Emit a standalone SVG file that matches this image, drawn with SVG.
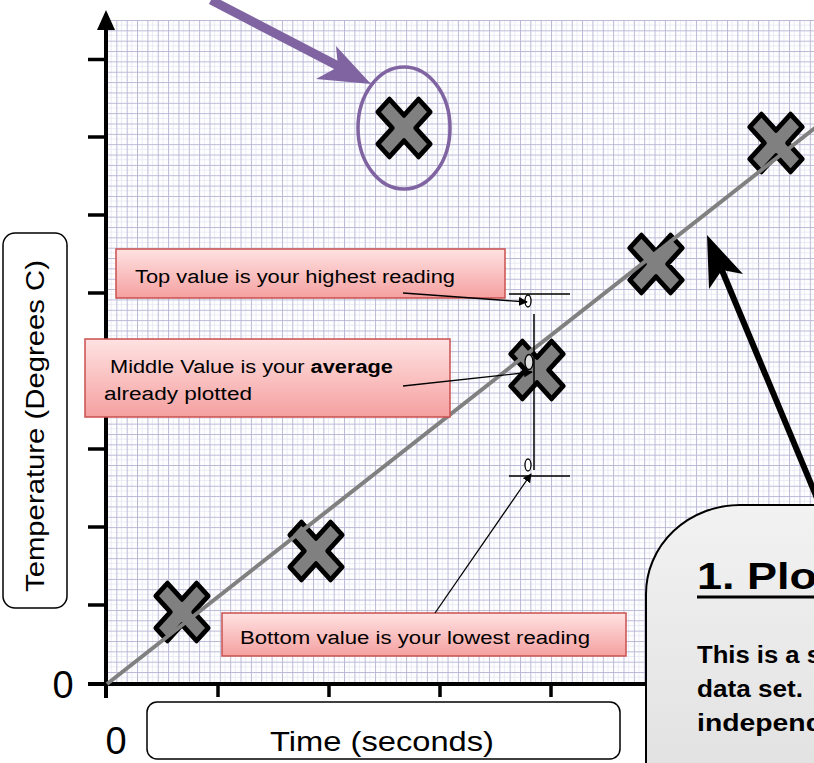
<svg xmlns="http://www.w3.org/2000/svg" xmlns:xlink="http://www.w3.org/1999/xlink" width="814" height="763" viewBox="0 0 814 763">
<style>
.txt{font-family:"Liberation Sans",Arial,sans-serif;fill:#000}
.redbox{fill:url(#redgrad);stroke:#c9504f;stroke-width:1.5}
.cross{fill:#808080;stroke:#000;stroke-width:4.5;stroke-linejoin:round}
.axis{stroke:#000;stroke-width:4;fill:none}
.tick{stroke:#000;stroke-width:3.5}
.ptr{stroke:#000;stroke-width:1.3;fill:none;marker-end:url(#sm)}
.oval{fill:#fff;stroke:#000;stroke-width:1.3}
</style>
<defs>
<pattern id="grid" patternUnits="userSpaceOnUse" x="106" y="20" width="10.35" height="10.35">
<rect width="10.35" height="10.35" fill="#fefeff"/>
<path d="M5.17 0V10.35M0 5.17H10.35" stroke="#e6e6f2" stroke-width="0.7"/>
<path d="M0.5 0V10.35M0 0.5H10.35" stroke="#b4b2d4" stroke-width="0.9"/>
</pattern>
<linearGradient id="redgrad" x1="0" y1="0" x2="0" y2="1">
<stop offset="0" stop-color="#ffe2e2"/>
<stop offset="1" stop-color="#f5a0a0"/>
</linearGradient>
<linearGradient id="graygrad" x1="0" y1="0" x2="0" y2="1">
<stop offset="0" stop-color="#f2f2f2"/>
<stop offset="1" stop-color="#e2e2e2"/>
</linearGradient>
<path id="xm" d="M14.14-25.46L25.46-14.14L11.31 0L25.46 14.14L14.14 25.46L0 11.31L-14.14 25.46L-25.46 14.14L-11.31 0L-25.46-14.14L-14.14-25.46L0-11.31Z"/>
<marker id="sm" viewBox="0 0 10 10" refX="9" refY="5" markerWidth="9" markerHeight="9" markerUnits="userSpaceOnUse" orient="auto">
<path d="M0 0L10 5L0 10Z" fill="#000"/>
</marker>
</defs>

<g id="grid-area">
<rect x="106" y="20" width="708" height="664" fill="url(#grid)"/>
</g>

<g id="axes">
<line class="axis" x1="106" y1="28" x2="106" y2="698"/>
<polygon points="106,10 115,30 97,30" fill="#000"/>
<line class="axis" x1="88" y1="684" x2="650" y2="684"/>
<g class="tick">
<line x1="88" y1="59.5" x2="106" y2="59.5"/>
<line x1="88" y1="137" x2="106" y2="137"/>
<line x1="88" y1="215" x2="106" y2="215"/>
<line x1="88" y1="293" x2="106" y2="293"/>
<line x1="88" y1="371" x2="106" y2="371"/>
<line x1="88" y1="449" x2="106" y2="449"/>
<line x1="88" y1="527" x2="106" y2="527"/>
<line x1="88" y1="605" x2="106" y2="605"/>
<line x1="218" y1="684" x2="218" y2="697"/>
<line x1="329" y1="684" x2="329" y2="697"/>
<line x1="440" y1="684" x2="440" y2="697"/>
<line x1="551" y1="684" x2="551" y2="697"/>
</g>
<text class="txt" x="63" y="698" font-size="38" text-anchor="middle">0</text>
<text class="txt" x="116" y="754" font-size="38" text-anchor="middle">0</text>
</g>

<g id="ylabel">
<rect x="3" y="233" width="64" height="375" rx="12" fill="#fff" stroke="#000" stroke-width="1.5"/>
<text class="txt" transform="translate(44,426) rotate(-90)" font-size="26" text-anchor="middle" textLength="332" lengthAdjust="spacingAndGlyphs">Temperature (Degrees C)</text>
</g>

<g id="xlabel">
<rect x="147" y="702" width="473" height="57" rx="10" fill="#fff" stroke="#000" stroke-width="1.5"/>
<text class="txt" x="382" y="751" font-size="28" text-anchor="middle" textLength="224" lengthAdjust="spacingAndGlyphs">Time (seconds)</text>
</g>

<g id="points">
<g id="p1" transform="translate(182,612) scale(1.03,1.13)"><use href="#xm" class="cross"/></g>
<g id="p2" transform="translate(316,551) scale(1.03,1.13)"><use href="#xm" class="cross"/></g>
<g id="p3" transform="translate(537,370) scale(1.03,1.13)"><use href="#xm" class="cross"/></g>
<g id="p4" transform="translate(656,264) scale(1.03,1.13)"><use href="#xm" class="cross"/></g>
<g id="p5" transform="translate(776,143) scale(1.03,1.13)"><use href="#xm" class="cross"/></g>
<g id="outlier" transform="translate(404,128) scale(1.03,1.13)"><use href="#xm" class="cross"/></g>
<ellipse cx="404" cy="128" rx="46" ry="61" fill="none" stroke="#8064a2" stroke-width="3.5"/>
</g>

<g id="bestfit">
<line x1="107" y1="684" x2="820" y2="124" stroke="#808080" stroke-width="4"/>
</g>

<g id="errorbar">
<line x1="509" y1="294" x2="570" y2="294" stroke="#000" stroke-width="1.5"/>
<line x1="509" y1="476" x2="570" y2="476" stroke="#000" stroke-width="1.5"/>
<line x1="534" y1="314" x2="534" y2="470" stroke="#000" stroke-width="1.5"/>
<ellipse class="oval" cx="528" cy="301" rx="3" ry="6"/>
<ellipse class="oval" cx="529" cy="362" rx="4" ry="7.5" style="fill:#e0e0e0"/>
<ellipse class="oval" cx="528" cy="465" rx="3" ry="6"/>
</g>

<g id="box-top">
<rect class="redbox" x="116" y="249" width="389" height="49"/>
<text class="txt" x="135" y="283" font-size="18" textLength="320" lengthAdjust="spacingAndGlyphs">Top value is your highest reading</text>
</g>

<g id="box-middle">
<rect class="redbox" x="85" y="339" width="365" height="78"/>
<text class="txt" x="110" y="373" font-size="18" textLength="283" lengthAdjust="spacingAndGlyphs">Middle Value is your <tspan font-weight="bold">average</tspan></text>
<text class="txt" x="104" y="400" font-size="18" textLength="148" lengthAdjust="spacingAndGlyphs">already plotted</text>
</g>

<g id="box-bottom">
<rect class="redbox" x="222" y="613" width="404" height="43"/>
<text class="txt" x="240" y="644" font-size="18" textLength="350" lengthAdjust="spacingAndGlyphs">Bottom value is your lowest reading</text>
</g>

<g id="connectors">
<path class="ptr" d="M403 293L527 302"/>
<path class="ptr" d="M403 386L532 372"/>
<path class="ptr" d="M435 613L531 474"/>
<line x1="211" y1="0" x2="340" y2="67" stroke="#8064a2" stroke-width="9"/>
<polygon points="371,84 336,46 338,67 316,79" fill="#8064a2"/>
<line x1="824" y1="515" x2="721" y2="268" stroke="#000" stroke-width="6"/>
<polygon points="707,235 743,274 722,270 709,289" fill="#000"/>
</g>

<g id="callout">
<path d="M646 770V594A94 89 0 0 1 740 505H820V770Z" fill="url(#graygrad)" stroke="#000" stroke-width="2"/>
<text class="txt" x="697" y="589" font-size="37" font-weight="bold" textLength="120" lengthAdjust="spacingAndGlyphs">1. Plo</text>
<line x1="697" y1="597" x2="820" y2="597" stroke="#000" stroke-width="3"/>
<text class="txt" x="697" y="663" font-size="23" font-weight="bold" textLength="124" lengthAdjust="spacingAndGlyphs">This is a s</text>
<text class="txt" x="697" y="697" font-size="23" font-weight="bold" textLength="106" lengthAdjust="spacingAndGlyphs">data  set.</text>
<text class="txt" x="697" y="731" font-size="23" font-weight="bold" textLength="126" lengthAdjust="spacingAndGlyphs">independ</text>
</g>
</svg>
